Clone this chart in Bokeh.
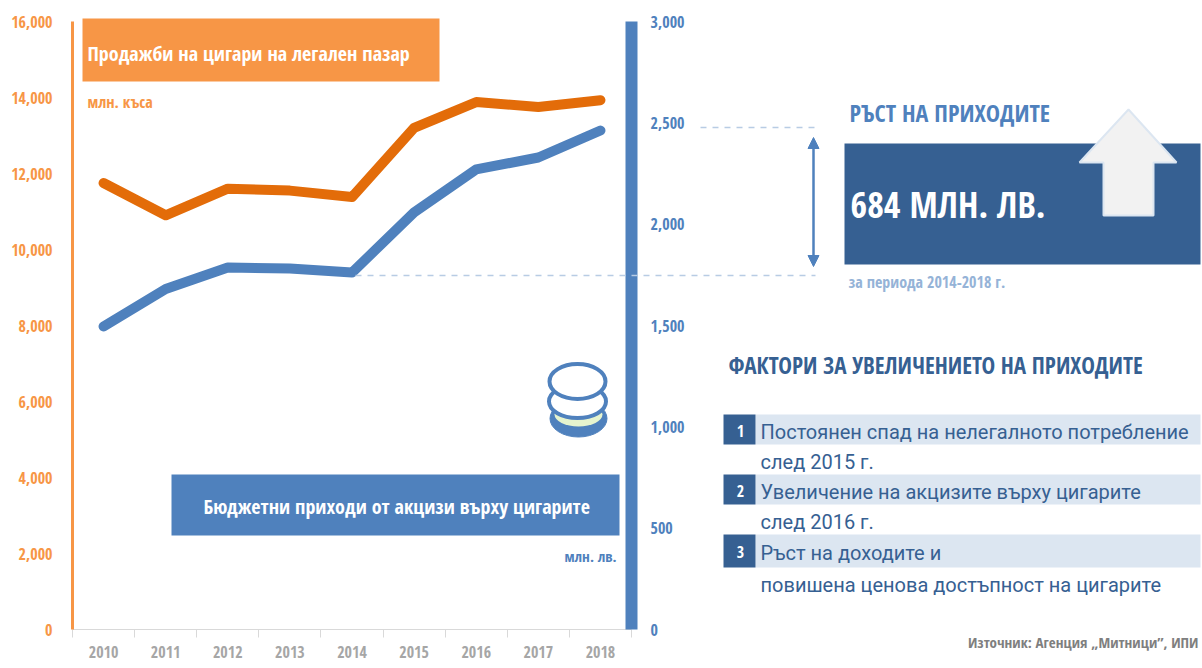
from bokeh.plotting import figure
from bokeh.layouts import column
from bokeh.embed import file_html
from bokeh.resources import INLINE
from bokeh.core.properties import value
from bokeh.models import Arrow, FixedTicker, LinearAxis, NormalHead, NumeralTickFormatter, Range1d

years = [2010, 2011, 2012, 2013, 2014, 2015, 2016, 2017, 2018]
cigarettes = [11750, 10900, 11600, 11550, 11380, 13200, 13880, 13750, 13930]
revenue = [1495, 1680, 1786, 1781, 1761, 2058, 2270, 2329, 2462]
left_ticks = [0, 2000, 4000, 6000, 8000, 10000, 12000, 14000, 16000]
right_ticks = [0, 500, 1000, 1500, 2000, 2500, 3000]
factor_lines = ["Постоянен спад на нелегалното потребление", "след 2015 г.",
                "Увеличение на акцизите върху цигарите", "след 2016 г.",
                "Ръст на доходите и", "повишена ценова достъпност на цигарите"]

ORANGE, DARK_ORANGE, BLUE, NAVY = "#F79646", "#E36C09", "#4F81BD", "#366092"
PALE, BAND, GREY = "#B8CCE4", "#DCE6F1", "#A6A6A6"
NARROW = "Open Sans Condensed"

W, H = 1202, 668
FL, FR, FT, FB = 72, 631, 21, 629

# ---------- chart with its own scales and axes ----------
p = figure(width=W, height=H, output_backend="svg", toolbar_location=None, frame_align=False,
           x_range=Range1d(2009.5, 2018.5), y_range=Range1d(0, 16000),
           x_axis_type=None, y_axis_type=None,
           min_border_left=FL, min_border_right=W - FR, min_border_top=FT, min_border_bottom=H - FB,
           outline_line_color=None, background_fill_color="white", border_fill_color="white")
p.xgrid.visible = False
p.ygrid.visible = False
p.extra_y_ranges = {"right": Range1d(0, 3000)}


def style_axis(a, color, size, standoff, bold=True):
    a.major_tick_in = 0
    a.major_tick_out = 0
    a.minor_tick_in = 0
    a.minor_tick_out = 0
    a.major_tick_line_color = None
    a.minor_tick_line_color = None
    a.major_label_standoff = standoff
    a.major_label_text_color = color
    a.major_label_text_font = NARROW
    a.major_label_text_font_size = f"{size}px"
    a.major_label_text_font_style = "bold" if bold else "normal"


xa = LinearAxis(ticker=FixedTicker(ticks=years, minor_ticks=[y - 0.5 for y in years] + [2018.5]),
                formatter=NumeralTickFormatter(format="0"))
style_axis(xa, GREY, 16, 8)
xa.minor_tick_out = 8
xa.minor_tick_line_color = "#D9D9D9"
xa.axis_line_color = "#D9D9D9"
p.add_layout(xa, "below")

la = LinearAxis(ticker=FixedTicker(ticks=left_ticks), formatter=NumeralTickFormatter(format="0,0"))
style_axis(la, ORANGE, 16, 20)
la.axis_line_color = ORANGE
la.axis_line_width = 3
p.add_layout(la, "left")

ra = LinearAxis(y_range_name="right", ticker=FixedTicker(ticks=right_ticks),
                formatter=NumeralTickFormatter(format="0,0"))
style_axis(ra, BLUE, 16, 19)
ra.axis_line_color = BLUE
ra.axis_line_width = 12
p.add_layout(ra, "right")

p.line(years, cigarettes, line_color=DARK_ORANGE, line_width=10, line_cap="round", line_join="round")
p.line(years, revenue, y_range_name="right", line_color=BLUE, line_width=10, line_cap="round", line_join="round")

# ---------- transparent page overlay in pixel coordinates, for the callouts ----------
q = figure(width=W, height=H, output_backend="svg", toolbar_location=None, frame_align=False,
           x_range=Range1d(0, W), y_range=Range1d(H, 0), x_axis_type=None, y_axis_type=None,
           min_border=0, min_border_left=0, min_border_right=0, min_border_top=0, min_border_bottom=0,
           outline_line_color=None, background_fill_color=None, border_fill_color=None,
           styles={"position": "absolute", "left": "0px", "top": "0px"})
q.xgrid.visible = False
q.ygrid.visible = False


def box(l, t, r, b, color):
    q.quad(left=[l], right=[r], top=[t], bottom=[b], fill_color=color, line_color=None)


def text(x, y, s, size, color, bold=True, font=NARROW, align="left"):
    q.text(x=[x], y=[y], text=[s], text_font=value(font), text_font_size=f"{size}px",
           text_color=color, text_align=align, text_baseline="middle",
           text_font_style="bold" if bold else "normal")


def seg(x0, y0, x1, y1, color, width=1.5, dash="solid"):
    q.segment(x0=[x0], y0=[y0], x1=[x1], y1=[y1], line_color=color, line_width=width, line_dash=dash)


# coins
el = dict(width_units="screen", height_units="screen")
q.ellipse([578], [418], width=[57], height=[37], fill_color=BLUE, line_color=BLUE, **el)
q.ellipse([578], [414], width=[48], height=[24], fill_color="#E6F4CE", line_color=None, **el)
q.ellipse([577], [401], width=[57], height=[33], fill_color="white", line_color=BLUE, line_width=4, **el)
q.ellipse([577], [381], width=[56], height=[35], fill_color="white", line_color=BLUE, line_width=4, **el)

# series title boxes
box(82, 18, 439, 81, ORANGE)
text(87, 53, "Продажби на цигари на легален пазар", 20, "white")
text(87, 101, "млн. къса", 16, ORANGE)
box(171, 474, 619, 535, BLUE)
text(203, 506, "Бюджетни приходи от акцизи върху цигарите", 20, "white")
text(616, 555, "млн. лв.", 15, BLUE, align="right")

# growth panel
seg(700, 127, 816, 127, PALE, dash="6 6")
seg(355, 275, 815, 275, PALE, dash="6 6")
q.add_layout(Arrow(x_start=813, y_start=137, x_end=813, y_end=266, line_color=BLUE, line_width=2.5,
                   start=NormalHead(size=11, fill_color=BLUE, line_color=BLUE),
                   end=NormalHead(size=11, fill_color=BLUE, line_color=BLUE)))
text(849, 112, "РЪСТ НА ПРИХОДИТЕ", 24, BLUE)
box(844, 143, 1200, 264, NAVY)
q.patch(x=[1128, 1176, 1153, 1153, 1103, 1103, 1079], y=[109, 162, 162, 215, 215, 162, 162],
        fill_color="#F2F2F2", line_color=BAND, line_width=2)
text(850, 204, "684 МЛН. ЛВ.", 36, "white")
text(848, 281, "за периода 2014-2018 г.", 16, "#95B3D7")

# factors
text(728, 364, "ФАКТОРИ ЗА УВЕЛИЧЕНИЕТО НА ПРИХОДИТЕ", 23, NAVY)
for (t, b), n in zip([(414, 444), (474, 504), (534, 567)], ["1", "2", "3"]):
    box(755, t, 1200, b, BAND)
    box(723, t, 755, b, NAVY)
    text(740, (t + b) / 2 + 1, n, 16, "white", align="center")
for y, s in zip([431, 461, 491, 521, 552, 584], factor_lines):
    text(760, y, s, 20, NAVY, bold=False, font="Roboto")
text(1198, 641, "Източник: Агенция „Митници”, ИПИ", 15, "#7F7F7F", align="right")

open("out.html", "w").write(file_html(column(p, q), INLINE))
